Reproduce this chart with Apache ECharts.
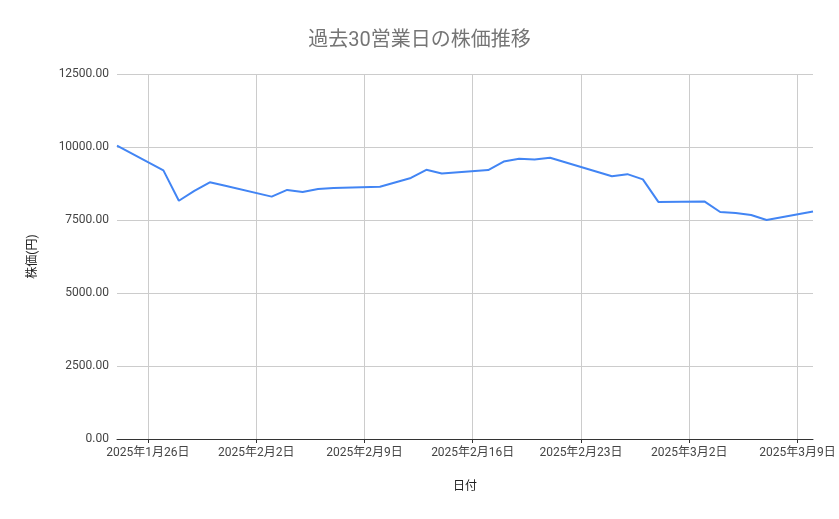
<!DOCTYPE html>
<html>
<head>
<meta charset="utf-8">
<script src="https://cdn.jsdelivr.net/npm/echarts@6/dist/echarts.min.js"></script>
<style>
html,body{margin:0;padding:0;background:#fff;}
#chart{width:839px;height:519px;}
</style>
</head>
<body>
<div id="chart"></div>
<script>
const titleText = '過去30営業日の株価推移';
const xAxisName = '日付';
const yAxisName = '株価(円)';

const dates = [
  '2025-01-24','2025-01-27','2025-01-28','2025-01-29','2025-01-30','2025-01-31',
  '2025-02-03','2025-02-04','2025-02-05','2025-02-06','2025-02-07',
  '2025-02-10','2025-02-12','2025-02-13','2025-02-14',
  '2025-02-17','2025-02-18','2025-02-19','2025-02-20','2025-02-21',
  '2025-02-25','2025-02-26','2025-02-27','2025-02-28',
  '2025-03-03','2025-03-04','2025-03-05','2025-03-06','2025-03-07',
  '2025-03-10'
];
const prices = [
  10050, 9200, 8160, 8500, 8790, 8670,
  8300, 8530, 8460, 8560, 8600,
  8640, 8940, 9220, 9090,
  9210, 9500, 9600, 9575, 9630,
  9000, 9070, 8890, 8120,
  8130, 7775, 7740, 7670, 7500,
  7790
];
const tickDates = ['2025-01-26','2025-02-02','2025-02-09','2025-02-16','2025-02-23','2025-03-02','2025-03-09'];
const tickLabels = ['2025年1月26日','2025年2月2日','2025年2月9日','2025年2月16日','2025年2月23日','2025年3月2日','2025年3月9日'];
const xMinDate = '2025-01-24';
const xMaxDate = '2025-03-10';
const yTicks = [0, 2500, 5000, 7500, 10000, 12500];

function ts(s){ const p = s.split('-').map(Number); return Date.UTC(p[0], p[1]-1, p[2]); }
const tickTs = tickDates.map(ts);

const chart = echarts.init(document.getElementById('chart'), null, {renderer:'canvas'});
chart.setOption({
  animation: false,
  backgroundColor: '#ffffff',
  textStyle: { fontFamily: 'Roboto, "Noto Sans CJK JP", sans-serif' },
  title: {
    text: titleText,
    left: 'center',
    top: 26,
    textStyle: { fontSize: 20, fontWeight: 'normal', color: '#757575', fontFamily: 'Roboto, "Noto Sans CJK JP", sans-serif' }
  },
  grid: { left: 117, right: 26, top: 74, bottom: 80, containLabel: false },
  xAxis: {
    type: 'value',
    min: ts(xMinDate),
    max: ts(xMaxDate),
    name: xAxisName,
    nameLocation: 'middle',
    nameGap: 42,
    nameTextStyle: { fontSize: 12, color: '#222' },
    axisLine: { show: true, lineStyle: { color: '#333', width: 1 } },
    axisTick: { show: true, customValues: tickTs, length: 4, lineStyle: { color: '#333' } },
    axisLabel: {
      customValues: tickTs,
      fontSize: 12, color: '#444', margin: 8,
      formatter: function(v){ const i = tickTs.indexOf(v); return i >= 0 ? tickLabels[i] : ''; }
    },
    splitLine: { show: true, lineStyle: { color: '#cccccc', width: 1 } }
  },
  yAxis: {
    type: 'value',
    min: yTicks[0],
    max: yTicks[yTicks.length-1],
    interval: yTicks[1]-yTicks[0],
    name: yAxisName,
    nameLocation: 'middle',
    nameGap: 78,
    nameRotate: 90,
    nameTextStyle: { fontSize: 12, color: '#222' },
    axisLine: { show: false },
    axisTick: { show: false },
    axisLabel: { fontSize: 12, color: '#444', margin: 8, formatter: v => v.toFixed(2) },
    splitLine: { show: true, lineStyle: { color: '#cccccc', width: 1 } }
  },
  series: [{
    type: 'line',
    data: dates.map((d,i) => [ts(d), prices[i]]),
    showSymbol: false,
    symbol: 'none',
    lineStyle: { color: '#4285F4', width: 2 },
    itemStyle: { color: '#4285F4' }
  }]
});
</script>
</body>
</html>
